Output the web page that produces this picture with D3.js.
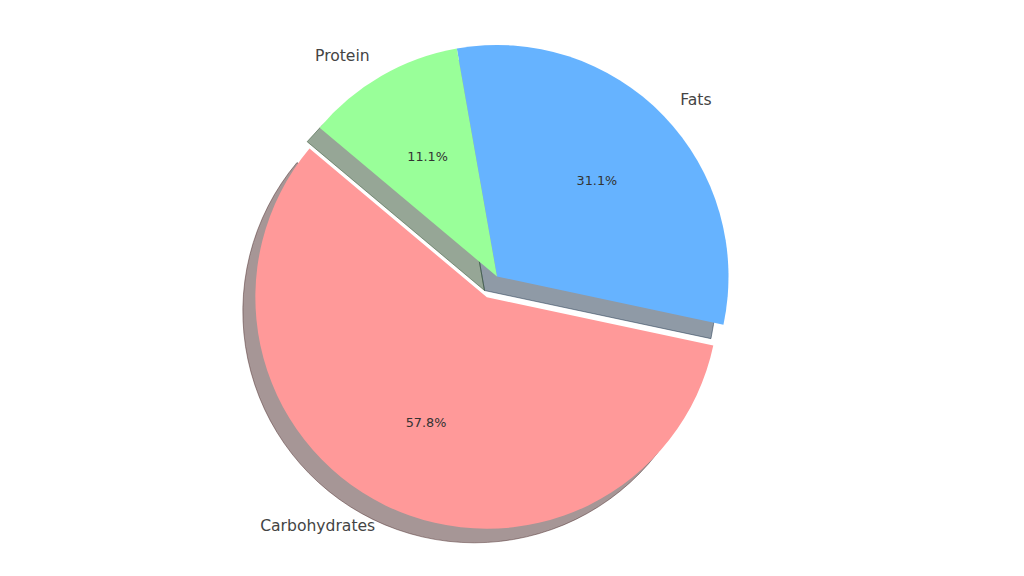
<!doctype html>
<html>
  <head>
    <script src="https://cdnjs.cloudflare.com/ajax/libs/d3/7.8.5/d3.min.js"></script>
    <style>
      body { margin: 0; background: #fff; }
      text { font-family: "DejaVu Sans", sans-serif; }
    </style>
  </head>
  <body>
    <svg id="chart" width="1024" height="576"></svg>
    <script>
      var categories = ["Carbohydrates", "Fats", "Protein"];
      var amounts = [260, 140, 50];
      var colors = ["#ff9999", "#66b3ff", "#99ff99"];
      var explode = [0.1, 0, 0];

      var cx = 497, cy = 276.5, r = 231.5;
      var shadowDx = -12.5, shadowDy = 14;

      var svg = d3.select("#chart");
      var g = svg.append("g").attr("transform", "translate(" + cx + "," + cy + ")");

      // matplotlib style: start at 140 deg, counter-clockwise
      var start = (90 - 140) * Math.PI / 180;
      var pie = d3.pie().sort(null).startAngle(start).endAngle(start - 2 * Math.PI);
      var arcs = pie(amounts);
      var arc = d3.arc().innerRadius(0).outerRadius(r);

      function mid(d) { return (d.startAngle + d.endAngle) / 2; }
      function offset(d, i) {
        var m = mid(d), e = explode[i] * r;
        return [Math.sin(m) * e, -Math.cos(m) * e];
      }
      function shade(i) {
        var c = d3.rgb(colors[i]);
        return d3.rgb(c.r * 0.3, c.g * 0.3, c.b * 0.3);
      }

      // shadows
      g.selectAll("path.shadow").data(arcs).enter().append("path")
        .attr("class", "shadow")
        .attr("d", arc)
        .attr("transform", function(d, i) {
          var o = offset(d, i);
          return "translate(" + (o[0] + shadowDx) + "," + (o[1] + shadowDy) + ")";
        })
        .attr("fill", function(d, i) { return shade(i); })
        .attr("fill-opacity", 0.5)
        .attr("stroke", function(d, i) { return shade(i); })
        .attr("stroke-opacity", 0.5)
        .attr("stroke-width", 1);

      // wedges
      g.selectAll("path.wedge").data(arcs).enter().append("path")
        .attr("class", "wedge")
        .attr("d", arc)
        .attr("transform", function(d, i) {
          var o = offset(d, i);
          return "translate(" + o[0] + "," + o[1] + ")";
        })
        .attr("fill", function(d, i) { return colors[i]; });

      // outer labels
      g.selectAll("text.label").data(arcs).enter().append("text")
        .attr("class", "label")
        .attr("x", function(d, i) { return offset(d, i)[0] + Math.sin(mid(d)) * 1.1 * r; })
        .attr("y", function(d, i) { return offset(d, i)[1] - Math.cos(mid(d)) * 1.1 * r; })
        .attr("text-anchor", function(d) { return Math.sin(mid(d)) > 0 ? "start" : "end"; })
        .attr("dominant-baseline", "central")
        .attr("font-size", 15.6)
        .attr("fill", "#444")
        .text(function(d, i) { return categories[i]; });

      // percentages
      var total = d3.sum(amounts);
      g.selectAll("text.pct").data(arcs).enter().append("text")
        .attr("class", "pct")
        .attr("x", function(d, i) { return offset(d, i)[0] + Math.sin(mid(d)) * 0.6 * r; })
        .attr("y", function(d, i) { return offset(d, i)[1] - Math.cos(mid(d)) * 0.6 * r; })
        .attr("text-anchor", "middle")
        .attr("dominant-baseline", "central")
        .attr("font-size", 12.8)
        .attr("fill", "#333")
        .text(function(d) { return (d.value / total * 100).toFixed(1) + "%"; });
    </script>
  </body>
</html>
